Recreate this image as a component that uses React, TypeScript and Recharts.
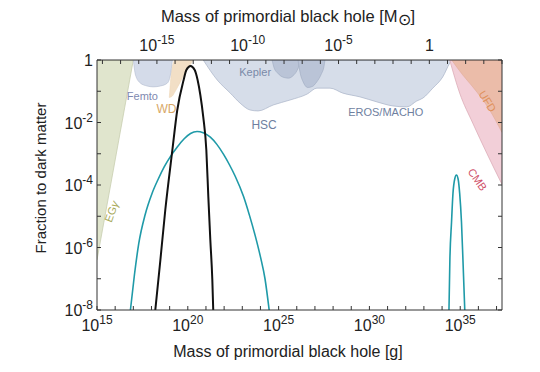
import React from 'react';
import { ComposedChart, XAxis, YAxis, Area, Line, ReferenceDot, Label } from 'recharts';

// ---------- data (log10 values) ----------
const SOLAR_MASS_LOG_G = 33.2986; // log10(1.989e33 g)
const X_MIN = 15;
const X_MAX = 37.3;
const Y_MIN = -8;
const Y_MAX = 0;
const TOP = 0;

const gramTicks = [15, 16, 17, 18, 19, 20, 21, 22, 23, 24, 25, 26, 27, 28, 29, 30, 31, 32, 33, 34, 35, 36, 37];
const solarTicks = [-18, -17, -16, -15, -14, -13, -12, -11, -10, -9, -8, -7, -6, -5, -4, -3, -2, -1, 0, 1, 2, 3, 4];
const fracTicks = [-8, -7, -6, -5, -4, -3, -2, -1, 0];

// black curve
const blackLogMass = [18.21, 18.49, 18.76, 19.15, 19.42, 19.77, 19.92, 20.15, 20.38, 20.54, 20.69, 20.85, 21.02, 21.13, 21.24, 21.35, 21.4];
const blackLogFrac = [-8, -6.4, -4.8, -2.88, -1.6, -0.64, -0.32, -0.19, -0.32, -0.64, -1.12, -1.82, -2.88, -4.38, -5.76, -7.04, -8];

// teal curve (asteroid-mass peak)
const teal1LogMass = [16.84, 17.06, 17.3, 17.65, 18.03, 18.38, 18.7, 19.04, 19.4, 19.8, 20.15, 20.51, 20.85, 21.24, 21.6, 21.97, 22.3, 22.61, 23.07, 23.4, 23.71, 24.0, 24.25, 24.48];
const teal1LogFrac = [-8, -6.88, -5.87, -4.95, -4.27, -3.8, -3.42, -3.09, -2.8, -2.52, -2.35, -2.29, -2.33, -2.47, -2.7, -3.02, -3.36, -3.72, -4.37, -4.98, -5.62, -6.3, -7.0, -8];

// teal curve (stellar-mass peak)
const teal2LogMass = [34.38, 34.43, 34.52, 34.6, 34.7, 34.79, 34.88, 34.97, 35.07, 35.15, 35.25];
const teal2LogFrac = [-8, -6.4, -5.2, -4.27, -3.8, -3.68, -3.8, -4.27, -5.2, -6.4, -8];

// constraint regions (lower edges; upper edge is f = 1)
const egLogMass = [15, 15.5, 16, 16.5, 17.0];
const egLogFrac = [-6.4, -4.8, -3.2, -1.6, 0];

const femtoLogMass = [17.0, 17.12, 17.39, 17.75, 18.1, 18.5, 18.87, 19.04, 19.15];
const femtoLogFrac = [0, -0.48, -0.74, -0.83, -0.86, -0.83, -0.74, -0.48, 0];

const wdLogMass = [18.98, 19.15, 19.31, 19.59, 19.86, 20.14, 20.3];
const wdLogFracLow = [-1.2, -1.15, -1.0, -0.7, -0.4, -0.15, 0];
const wdLogFracHigh = [-1.2, -0.2, 0, 0, 0, 0, 0];

const hscErosLogMass = [20.85, 21.62, 22.34, 22.88, 23.43, 23.87, 24.7, 25.63, 26.57, 27.11, 27.83, 28.54, 29.48, 30.41, 31.29, 32.06, 32.61, 32.94, 33.49, 34.04, 34.42, 34.53];
const hscErosLogFrac = [0, -0.64, -1.06, -1.38, -1.6, -1.63, -1.44, -1.28, -1.09, -0.9, -0.9, -1.06, -1.18, -1.34, -1.47, -1.5, -1.31, -1.22, -0.9, -0.54, -0.1, 0];

const keplerLogMass = [24.64, 24.75, 24.95, 25.3, 25.55, 25.8, 26.0, 26.12, 26.18];
const keplerLogFrac = [0, -0.25, -0.42, -0.56, -0.58, -0.5, -0.35, -0.18, 0];

const kepler2LogMass = [26.07, 26.2, 26.35, 26.6, 26.85, 27.1, 27.35, 27.5, 27.55];
const kepler2LogFrac = [0, -0.45, -0.7, -0.88, -0.85, -0.7, -0.45, -0.2, 0];

const cmbLogMass = [34.42, 34.97, 35.69, 36.46, 37.3];
const cmbLogFrac = [0, -1.06, -2.02, -2.98, -3.98];

const ufdLogMass = [34.53, 35.14, 35.69, 36.62, 37.3];
const ufdLogFrac = [0, -0.48, -0.86, -1.6, -2.32];

// ---------- helpers ----------
const mkRange = (xs: number[], lo: number[], hi?: number[]) =>
  xs.map((x, i) => ({ x, v: [lo[i], hi ? hi[i] : TOP] }));
const mkLine = (xs: number[], ys: number[]) => xs.map((x, i) => ({ x, y: ys[i] }));

const egData = mkRange(egLogMass, egLogFrac);
const femtoData = mkRange(femtoLogMass, femtoLogFrac);
const wdData = mkRange(wdLogMass, wdLogFracLow, wdLogFracHigh);
const hscData = mkRange(hscErosLogMass, hscErosLogFrac);
const keplerData = mkRange(keplerLogMass, keplerLogFrac);
const kepler2Data = mkRange(kepler2LogMass, kepler2LogFrac);
const cmbData = mkRange(cmbLogMass, cmbLogFrac);
const ufdData = mkRange(ufdLogMass, ufdLogFrac);
const blackData = mkLine(blackLogMass, blackLogFrac);
const teal1Data = mkLine(teal1LogMass, teal1LogFrac);
const teal2Data = mkLine(teal2LogMass, teal2LogFrac);

// ---------- styling ----------
const FONT = '"Liberation Sans", Arial, Helvetica, sans-serif';
const AXIS_COLOR = '#333';
const TEXT_COLOR = '#222';
const W = 532;
const H = 364;

const Pow = ({ x, y, exp, anchor }: { x: number; y: number; exp: number; anchor: string }) => (
  <text x={x} y={y} textAnchor={anchor} fontSize={16} fill={TEXT_COLOR} fontFamily={FONT}>
    {exp === 0 ? (
      '1'
    ) : (
      <>
        10
        <tspan dy={-7} fontSize={12}>
          {String(exp)}
        </tspan>
      </>
    )}
  </text>
);

const BottomTick = (props: any) => {
  const { x, y, payload } = props;
  const v = payload.value;
  const major = v % 5 === 0;
  return (
    <g>
      <line x1={x} x2={x} y1={y} y2={y - 4} stroke={AXIS_COLOR} strokeWidth={1} />
      {major && <Pow x={x} y={y + 21} exp={v} anchor="middle" />}
    </g>
  );
};

const TopTick = (props: any) => {
  const { x, y, payload } = props;
  const v = payload.value;
  const major = v % 5 === 0;
  return (
    <g>
      <line x1={x} x2={x} y1={y} y2={y + 4} stroke={AXIS_COLOR} strokeWidth={1} />
      {major && <Pow x={x} y={y - 9} exp={v} anchor="middle" />}
    </g>
  );
};

const LeftTick = (props: any) => {
  const { x, y, payload } = props;
  const v = payload.value;
  const major = v % 2 === 0;
  return (
    <g>
      <line x1={x} x2={x + 4} y1={y} y2={y} stroke={AXIS_COLOR} strokeWidth={1} />
      {major && <Pow x={x - 4} y={y + 6} exp={v} anchor="end" />}
    </g>
  );
};

const RightTick = (props: any) => {
  const { x, y } = props;
  return <line x1={x} x2={x - 4} y1={y} y2={y} stroke={AXIS_COLOR} strokeWidth={1} />;
};

const regionLabel = (key: string, x: number, y: number, text: React.ReactNode, color: string, size: number, angle = 0) => (
  <ReferenceDot
    key={key}
    x={x}
    y={y}
    r={1}
    ifOverflow="visible"
    shape={(p: any) => (
      <text
        x={p.cx}
        y={p.cy}
        textAnchor="middle"
        dominantBaseline="middle"
        fontSize={size}
        fontFamily={FONT}
        fill={color}
        transform={angle ? `rotate(${angle}, ${p.cx}, ${p.cy})` : undefined}
      >
        {text}
      </text>
    )}
  />
);

export default function App() {
  return (
    <ComposedChart width={W} height={H} margin={{ top: 0, right: 0, bottom: 0, left: 0 }}>
      <XAxis
        xAxisId={0}
        type="number"
        dataKey="x"
        domain={[X_MIN, X_MAX]}
        allowDataOverflow
        ticks={gramTicks}
        interval={0}
        tick={<BottomTick />}
        tickLine={false}
        tickSize={0}
        tickMargin={0}
        height={62}
        axisLine={{ stroke: AXIS_COLOR, strokeWidth: 1 }}
      >
        <Label
          content={() => (
            <text x={280} y={349} textAnchor="middle" fontSize={16} fontFamily={FONT} fill={TEXT_COLOR}>
              Mass of primordial black hole [g]
            </text>
          )}
        />
      </XAxis>
      <XAxis
        xAxisId="top"
        orientation="top"
        type="number"
        dataKey="x"
        domain={[X_MIN - SOLAR_MASS_LOG_G, X_MAX - SOLAR_MASS_LOG_G]}
        allowDataOverflow
        ticks={solarTicks}
        interval={0}
        tick={<TopTick />}
        tickLine={false}
        tickSize={0}
        tickMargin={0}
        height={52}
        axisLine={{ stroke: AXIS_COLOR, strokeWidth: 1 }}
      >
        <Label
          content={() => (
            <text x={280} y={14} textAnchor="middle" fontSize={16.5} fontFamily={FONT} fill={TEXT_COLOR}>
              Mass of primordial black hole [M
              <tspan fontSize={16} dy={3}>⊙</tspan>
              <tspan dy={-3}>]</tspan>
            </text>
          )}
        />
      </XAxis>
      <YAxis
        yAxisId={0}
        type="number"
        domain={[Y_MIN, Y_MAX]}
        allowDataOverflow
        ticks={fracTicks}
        interval={0}
        tick={<LeftTick />}
        tickLine={false}
        tickSize={0}
        tickMargin={0}
        width={89}
        axisLine={{ stroke: AXIS_COLOR, strokeWidth: 1 }}
      >
        <Label
          content={() => (
            <text
              x={38}
              y={170}
              textAnchor="middle"
              fontSize={15}
              fontFamily={FONT}
              fill={TEXT_COLOR}
              transform="rotate(-90, 38, 170)"
            >
              Fraction to dark matter
            </text>
          )}
        />
      </YAxis>
      <YAxis
        yAxisId="right"
        orientation="right"
        type="number"
        domain={[Y_MIN, Y_MAX]}
        allowDataOverflow
        ticks={fracTicks}
        interval={0}
        tick={<RightTick />}
        tickLine={false}
        tickSize={0}
        tickMargin={0}
        width={38}
        axisLine={{ stroke: AXIS_COLOR, strokeWidth: 1 }}
      />

      <Area data={egData} dataKey="v" type="linear" fill="#e0e5cd" fillOpacity={1} stroke="#c8ceb0" strokeWidth={0.8} isAnimationActive={false} />
      <Area data={wdData} dataKey="v" type="monotone" fill="#f2dfc6" fillOpacity={1} stroke="#eed7b8" strokeWidth={0.6} isAnimationActive={false} />
      <Area data={femtoData} dataKey="v" type="monotone" fill="#d4dbe9" fillOpacity={1} stroke="#b3bccf" strokeWidth={0.6} isAnimationActive={false} />
      <Area data={hscData} dataKey="v" type="monotone" fill="#d6dde9" fillOpacity={1} stroke="#a9b3c7" strokeWidth={0.7} isAnimationActive={false} />
      <Area data={keplerData} dataKey="v" type="monotone" fill="#bac4d7" fillOpacity={1} stroke="#9ea9bf" strokeWidth={0.6} isAnimationActive={false} />
      <Area data={kepler2Data} dataKey="v" type="monotone" fill="#bac4d7" fillOpacity={1} stroke="#9ea9bf" strokeWidth={0.6} isAnimationActive={false} />
      <Area data={cmbData} dataKey="v" type="monotone" fill="#f2cfd8" fillOpacity={1} stroke="#d9a6b2" strokeWidth={0.7} isAnimationActive={false} />
      <Area data={ufdData} dataKey="v" type="monotone" fill="#ebbca9" fillOpacity={1} stroke="#e0ab98" strokeWidth={0.6} isAnimationActive={false} />

      <Line data={teal1Data} dataKey="y" type="monotone" stroke="#1f9aa8" strokeWidth={1.6} dot={false} isAnimationActive={false} />
      <Line data={teal2Data} dataKey="y" type="monotone" stroke="#1f9aa8" strokeWidth={1.6} dot={false} isAnimationActive={false} />
      <Line data={blackData} dataKey="y" type="monotone" stroke="#111" strokeWidth={2} dot={false} isAnimationActive={false} />

      {regionLabel('femto', 17.5, -1.18, 'Femto', '#8089b0', 11)}
      {regionLabel('wd', 18.82, -1.6, 'WD', '#d8a868', 12)}
      {regionLabel('kepler', 23.71, -0.42, 'Kepler', '#7a8aa8', 11)}
      {regionLabel('hsc', 24.2, -2.11, 'HSC', '#6f7f9f', 12)}
      {regionLabel('eros', 30.9, -1.7, 'EROS/MACHO', '#6f7f9f', 11)}
      {regionLabel('ufd', 36.46, -1.34, 'UFD', '#e0905a', 11, 58)}
      {regionLabel('cmb', 35.9, -3.84, 'CMB', '#d0506a', 11, 55)}
      {regionLabel(
        'eg',
        15.85,
        -4.86,
        <>
          EG<tspan fontStyle="italic">γ</tspan>
        </>,
        '#a8aa5a',
        11,
        -70
      )}
    </ComposedChart>
  );
}
